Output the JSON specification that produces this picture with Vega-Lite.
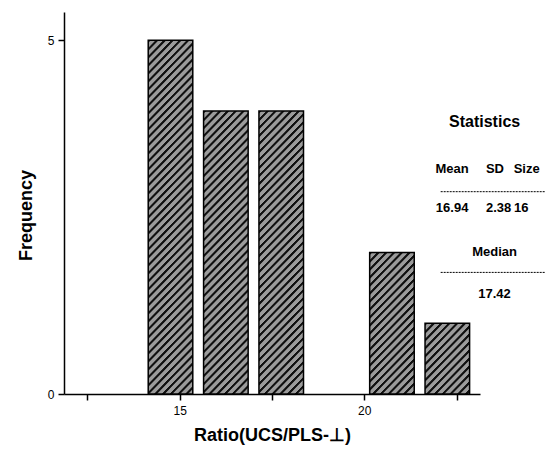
{
  "$schema": "https://vega.github.io/schema/vega-lite/v6.json",
  "width": 416,
  "height": 382,
  "autosize": "none",
  "padding": {"left": 64, "top": 12, "right": 72, "bottom": 68},
  "background": "white",
  "config": {"view": {"stroke": null}, "font": "Liberation Sans"},
  "params": [
    {"name": "stripes", "value": [
      {"offset":0,"color":"#111"},{"offset":0.005,"color":"#111"},{"offset":0.008,"color":"#9b9b9b"},{"offset":0.018,"color":"#9b9b9b"},
      {"offset":0.02,"color":"#111"},{"offset":0.025,"color":"#111"},{"offset":0.028,"color":"#9b9b9b"},{"offset":0.038,"color":"#9b9b9b"},
      {"offset":0.04,"color":"#111"},{"offset":0.045,"color":"#111"},{"offset":0.048,"color":"#9b9b9b"},{"offset":0.058,"color":"#9b9b9b"},
      {"offset":0.06,"color":"#111"},{"offset":0.065,"color":"#111"},{"offset":0.068,"color":"#9b9b9b"},{"offset":0.078,"color":"#9b9b9b"},
      {"offset":0.08,"color":"#111"},{"offset":0.085,"color":"#111"},{"offset":0.088,"color":"#9b9b9b"},{"offset":0.098,"color":"#9b9b9b"},
      {"offset":0.1,"color":"#111"},{"offset":0.105,"color":"#111"},{"offset":0.108,"color":"#9b9b9b"},{"offset":0.118,"color":"#9b9b9b"},
      {"offset":0.12,"color":"#111"},{"offset":0.125,"color":"#111"},{"offset":0.128,"color":"#9b9b9b"},{"offset":0.138,"color":"#9b9b9b"},
      {"offset":0.14,"color":"#111"},{"offset":0.145,"color":"#111"},{"offset":0.148,"color":"#9b9b9b"},{"offset":0.158,"color":"#9b9b9b"},
      {"offset":0.16,"color":"#111"},{"offset":0.165,"color":"#111"},{"offset":0.168,"color":"#9b9b9b"},{"offset":0.178,"color":"#9b9b9b"},
      {"offset":0.18,"color":"#111"},{"offset":0.185,"color":"#111"},{"offset":0.188,"color":"#9b9b9b"},{"offset":0.198,"color":"#9b9b9b"},
      {"offset":0.2,"color":"#111"},{"offset":0.205,"color":"#111"},{"offset":0.208,"color":"#9b9b9b"},{"offset":0.218,"color":"#9b9b9b"},
      {"offset":0.22,"color":"#111"},{"offset":0.225,"color":"#111"},{"offset":0.228,"color":"#9b9b9b"},{"offset":0.238,"color":"#9b9b9b"},
      {"offset":0.24,"color":"#111"},{"offset":0.245,"color":"#111"},{"offset":0.248,"color":"#9b9b9b"},{"offset":0.258,"color":"#9b9b9b"},
      {"offset":0.26,"color":"#111"},{"offset":0.265,"color":"#111"},{"offset":0.268,"color":"#9b9b9b"},{"offset":0.278,"color":"#9b9b9b"},
      {"offset":0.28,"color":"#111"},{"offset":0.285,"color":"#111"},{"offset":0.288,"color":"#9b9b9b"},{"offset":0.298,"color":"#9b9b9b"},
      {"offset":0.3,"color":"#111"},{"offset":0.305,"color":"#111"},{"offset":0.308,"color":"#9b9b9b"},{"offset":0.318,"color":"#9b9b9b"},
      {"offset":0.32,"color":"#111"},{"offset":0.325,"color":"#111"},{"offset":0.328,"color":"#9b9b9b"},{"offset":0.338,"color":"#9b9b9b"},
      {"offset":0.34,"color":"#111"},{"offset":0.345,"color":"#111"},{"offset":0.348,"color":"#9b9b9b"},{"offset":0.358,"color":"#9b9b9b"},
      {"offset":0.36,"color":"#111"},{"offset":0.365,"color":"#111"},{"offset":0.368,"color":"#9b9b9b"},{"offset":0.378,"color":"#9b9b9b"},
      {"offset":0.38,"color":"#111"},{"offset":0.385,"color":"#111"},{"offset":0.388,"color":"#9b9b9b"},{"offset":0.398,"color":"#9b9b9b"},
      {"offset":0.4,"color":"#111"},{"offset":0.405,"color":"#111"},{"offset":0.408,"color":"#9b9b9b"},{"offset":0.418,"color":"#9b9b9b"},
      {"offset":0.42,"color":"#111"},{"offset":0.425,"color":"#111"},{"offset":0.428,"color":"#9b9b9b"},{"offset":0.438,"color":"#9b9b9b"},
      {"offset":0.44,"color":"#111"},{"offset":0.445,"color":"#111"},{"offset":0.448,"color":"#9b9b9b"},{"offset":0.458,"color":"#9b9b9b"},
      {"offset":0.46,"color":"#111"},{"offset":0.465,"color":"#111"},{"offset":0.468,"color":"#9b9b9b"},{"offset":0.478,"color":"#9b9b9b"},
      {"offset":0.48,"color":"#111"},{"offset":0.485,"color":"#111"},{"offset":0.488,"color":"#9b9b9b"},{"offset":0.498,"color":"#9b9b9b"},
      {"offset":0.5,"color":"#111"},{"offset":0.505,"color":"#111"},{"offset":0.508,"color":"#9b9b9b"},{"offset":0.518,"color":"#9b9b9b"},
      {"offset":0.52,"color":"#111"},{"offset":0.525,"color":"#111"},{"offset":0.528,"color":"#9b9b9b"},{"offset":0.538,"color":"#9b9b9b"},
      {"offset":0.54,"color":"#111"},{"offset":0.545,"color":"#111"},{"offset":0.548,"color":"#9b9b9b"},{"offset":0.558,"color":"#9b9b9b"},
      {"offset":0.56,"color":"#111"},{"offset":0.565,"color":"#111"},{"offset":0.568,"color":"#9b9b9b"},{"offset":0.578,"color":"#9b9b9b"},
      {"offset":0.58,"color":"#111"},{"offset":0.585,"color":"#111"},{"offset":0.588,"color":"#9b9b9b"},{"offset":0.598,"color":"#9b9b9b"},
      {"offset":0.6,"color":"#111"},{"offset":0.605,"color":"#111"},{"offset":0.608,"color":"#9b9b9b"},{"offset":0.618,"color":"#9b9b9b"},
      {"offset":0.62,"color":"#111"},{"offset":0.625,"color":"#111"},{"offset":0.628,"color":"#9b9b9b"},{"offset":0.638,"color":"#9b9b9b"},
      {"offset":0.64,"color":"#111"},{"offset":0.645,"color":"#111"},{"offset":0.648,"color":"#9b9b9b"},{"offset":0.658,"color":"#9b9b9b"},
      {"offset":0.66,"color":"#111"},{"offset":0.665,"color":"#111"},{"offset":0.668,"color":"#9b9b9b"},{"offset":0.678,"color":"#9b9b9b"},
      {"offset":0.68,"color":"#111"},{"offset":0.685,"color":"#111"},{"offset":0.688,"color":"#9b9b9b"},{"offset":0.698,"color":"#9b9b9b"},
      {"offset":0.7,"color":"#111"},{"offset":0.705,"color":"#111"},{"offset":0.708,"color":"#9b9b9b"},{"offset":0.718,"color":"#9b9b9b"},
      {"offset":0.72,"color":"#111"},{"offset":0.725,"color":"#111"},{"offset":0.728,"color":"#9b9b9b"},{"offset":0.738,"color":"#9b9b9b"},
      {"offset":0.74,"color":"#111"},{"offset":0.745,"color":"#111"},{"offset":0.748,"color":"#9b9b9b"},{"offset":0.758,"color":"#9b9b9b"},
      {"offset":0.76,"color":"#111"},{"offset":0.765,"color":"#111"},{"offset":0.768,"color":"#9b9b9b"},{"offset":0.778,"color":"#9b9b9b"},
      {"offset":0.78,"color":"#111"},{"offset":0.785,"color":"#111"},{"offset":0.788,"color":"#9b9b9b"},{"offset":0.798,"color":"#9b9b9b"},
      {"offset":0.8,"color":"#111"},{"offset":0.805,"color":"#111"},{"offset":0.808,"color":"#9b9b9b"},{"offset":0.818,"color":"#9b9b9b"},
      {"offset":0.82,"color":"#111"},{"offset":0.825,"color":"#111"},{"offset":0.828,"color":"#9b9b9b"},{"offset":0.838,"color":"#9b9b9b"},
      {"offset":0.84,"color":"#111"},{"offset":0.845,"color":"#111"},{"offset":0.848,"color":"#9b9b9b"},{"offset":0.858,"color":"#9b9b9b"},
      {"offset":0.86,"color":"#111"},{"offset":0.865,"color":"#111"},{"offset":0.868,"color":"#9b9b9b"},{"offset":0.878,"color":"#9b9b9b"},
      {"offset":0.88,"color":"#111"},{"offset":0.885,"color":"#111"},{"offset":0.888,"color":"#9b9b9b"},{"offset":0.898,"color":"#9b9b9b"},
      {"offset":0.9,"color":"#111"},{"offset":0.905,"color":"#111"},{"offset":0.908,"color":"#9b9b9b"},{"offset":0.918,"color":"#9b9b9b"},
      {"offset":0.92,"color":"#111"},{"offset":0.925,"color":"#111"},{"offset":0.928,"color":"#9b9b9b"},{"offset":0.938,"color":"#9b9b9b"},
      {"offset":0.94,"color":"#111"},{"offset":0.945,"color":"#111"},{"offset":0.948,"color":"#9b9b9b"},{"offset":0.958,"color":"#9b9b9b"},
      {"offset":0.96,"color":"#111"},{"offset":0.965,"color":"#111"},{"offset":0.968,"color":"#9b9b9b"},{"offset":0.978,"color":"#9b9b9b"},
      {"offset":0.98,"color":"#111"},{"offset":0.985,"color":"#111"},{"offset":0.988,"color":"#9b9b9b"},{"offset":0.998,"color":"#9b9b9b"},
      {"offset":1,"color":"#111"}
    ]}
  ],
  "data": {"values": [
    {"bin_start": 14, "bin_end": 15.5, "count": 5},
    {"bin_start": 15.5, "bin_end": 17, "count": 4},
    {"bin_start": 17, "bin_end": 18.5, "count": 4},
    {"bin_start": 18.5, "bin_end": 20, "count": 0},
    {"bin_start": 20, "bin_end": 21.5, "count": 2},
    {"bin_start": 21.5, "bin_end": 23, "count": 1}
  ]},
  "layer": [
    {
      "transform": [{"filter": "datum.count == 5"}],
      "mark": {"type": "bar", "orient": "vertical", "fill": {"expr": "{gradient: 'linear', x1: 0, y1: 0, x2: 0.1443, y2: 1.1122, stops: stripes}"}, "stroke": "black", "strokeWidth": 1.5, "xOffset": 5.4, "x2Offset": -5.4},
      "encoding": {
        "x": {"field": "bin_start", "type": "quantitative", "scale": {"domain": [12, 23], "nice": false, "zero": false},
          "axis": {"values": [12.5, 15, 17.5, 20, 22.5], "labelExpr": "datum.value % 5 == 0 ? datum.label : ''", "grid": false,
            "domainColor": "black", "domainWidth": 1.5, "tickColor": "black", "tickWidth": 1.5, "tickSize": 6,
            "labelFont": "Liberation Sans", "labelFontSize": 12, "labelColor": "black", "labelPadding": 5,
            "title": "Ratio(UCS/PLS-⊥)", "titleFont": "Liberation Sans", "titleFontSize": 18, "titleFontWeight": "bold", "titleColor": "black", "titlePadding": 10}},
        "x2": {"field": "bin_end"},
        "y": {"field": "count", "type": "quantitative", "scale": {"domain": [0, 5.4], "nice": false},
          "axis": {"values": [0, 5], "format": "d", "grid": false,
            "domainColor": "black", "domainWidth": 1.5, "tickColor": "black", "tickWidth": 1.5, "tickSize": 6,
            "labelFont": "Liberation Sans", "labelFontSize": 12, "labelColor": "black", "labelPadding": 4,
            "title": "Frequency", "titleFont": "Liberation Sans", "titleFontSize": 18, "titleFontWeight": "bold", "titleColor": "black", "titlePadding": 12, "titleY": 203}},
        "y2": {"datum": 0}
      }
    },
    {
      "transform": [{"filter": "datum.count == 4"}],
      "mark": {"type": "bar", "orient": "vertical", "fill": {"expr": "{gradient: 'linear', x1: 0, y1: 0, x2: 0.2234, y2: 1.3774, stops: stripes}"}, "stroke": "black", "strokeWidth": 1.5, "xOffset": 5.4, "x2Offset": -5.4},
      "encoding": {
        "x": {"field": "bin_start", "type": "quantitative", "scale": {"domain": [12, 23], "nice": false, "zero": false}},
        "x2": {"field": "bin_end"},
        "y": {"field": "count", "type": "quantitative", "scale": {"domain": [0, 5.4], "nice": false}},
        "y2": {"datum": 0}
      }
    },
    {
      "transform": [{"filter": "datum.count == 2"}],
      "mark": {"type": "bar", "orient": "vertical", "fill": {"expr": "{gradient: 'linear', x1: 0, y1: 0, x2: 0.8299, y2: 2.558, stops: stripes}"}, "stroke": "black", "strokeWidth": 1.5, "xOffset": 5.4, "x2Offset": -5.4},
      "encoding": {
        "x": {"field": "bin_start", "type": "quantitative", "scale": {"domain": [12, 23], "nice": false, "zero": false}},
        "x2": {"field": "bin_end"},
        "y": {"field": "count", "type": "quantitative", "scale": {"domain": [0, 5.4], "nice": false}},
        "y2": {"datum": 0}
      }
    },
    {
      "transform": [{"filter": "datum.count == 1"}],
      "mark": {"type": "bar", "orient": "vertical", "fill": {"expr": "{gradient: 'linear', x1: 0, y1: 0, x2: 2.582, y2: 3.9793, stops: stripes}"}, "stroke": "black", "strokeWidth": 1.5, "xOffset": 5.4, "x2Offset": -5.4},
      "encoding": {
        "x": {"field": "bin_start", "type": "quantitative", "scale": {"domain": [12, 23], "nice": false, "zero": false}},
        "x2": {"field": "bin_end"},
        "y": {"field": "count", "type": "quantitative", "scale": {"domain": [0, 5.4], "nice": false}},
        "y2": {"datum": 0}
      }
    },
    {
      "data": {"values": [
        {"x1": 22.07, "x2": 24.9, "y": 2.86},
        {"x1": 22.07, "x2": 24.9, "y": 1.719}
      ]},
      "mark": {"type": "rule", "color": "black", "strokeWidth": 1, "strokeDash": [2, 1]},
      "encoding": {
        "x": {"field": "x1", "type": "quantitative", "scale": {"domain": [12, 23], "nice": false, "zero": false}},
        "x2": {"field": "x2"},
        "y": {"field": "y", "type": "quantitative", "scale": {"domain": [0, 5.4], "nice": false}}
      }
    },
    {
      "data": {"values": [
        {"label": "Statistics", "tx": 23.26, "ty": 3.85}
      ]},
      "mark": {"type": "text", "font": "Liberation Sans", "fontSize": 16, "fontWeight": "bold", "color": "black", "align": "center", "baseline": "middle"},
      "encoding": {
        "x": {"field": "tx", "type": "quantitative", "scale": {"domain": [12, 23], "nice": false, "zero": false}},
        "y": {"field": "ty", "type": "quantitative", "scale": {"domain": [0, 5.4], "nice": false}},
        "text": {"field": "label"}
      }
    },
    {
      "data": {"values": [
        {"label": "Mean", "tx": 22.38, "ty": 3.185},
        {"label": "SD", "tx": 23.54, "ty": 3.185},
        {"label": "Size", "tx": 24.4, "ty": 3.185},
        {"label": "16.94", "tx": 22.38, "ty": 2.634},
        {"label": "2.38", "tx": 23.64, "ty": 2.634},
        {"label": "16", "tx": 24.25, "ty": 2.634},
        {"label": "Median", "tx": 23.53, "ty": 2.012},
        {"label": "17.42", "tx": 23.53, "ty": 1.418}
      ]},
      "mark": {"type": "text", "font": "Liberation Sans", "fontSize": 13, "fontWeight": "bold", "color": "black", "align": "center", "baseline": "middle"},
      "encoding": {
        "x": {"field": "tx", "type": "quantitative", "scale": {"domain": [12, 23], "nice": false, "zero": false}},
        "y": {"field": "ty", "type": "quantitative", "scale": {"domain": [0, 5.4], "nice": false}},
        "text": {"field": "label"}
      }
    }
  ]
}
